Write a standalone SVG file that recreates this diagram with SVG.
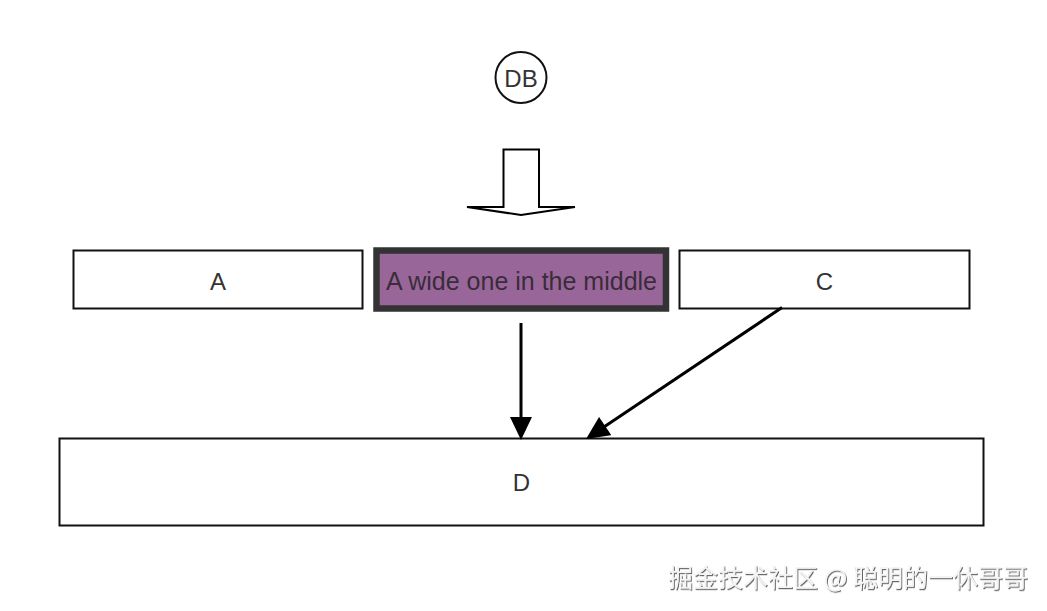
<svg xmlns="http://www.w3.org/2000/svg" width="1047" height="611" viewBox="0 0 1047 611">
<style>
.box{fill:#ffffff;stroke:#111111;stroke-width:2}
.lbl{font-family:"Liberation Sans",Arial,sans-serif;font-size:24px;fill:#333333;text-anchor:middle;dominant-baseline:central}
.conn{stroke:#000000;stroke-width:3;fill:none}
.wm{font-family:"Noto Sans CJK SC","Noto Sans",sans-serif;font-size:25px;fill:#f4f4f4}
</style>
<defs>
<marker id="head" markerUnits="userSpaceOnUse" markerWidth="24" markerHeight="22" viewBox="0 0 22 21" refX="1" refY="10.5" orient="auto">
<path d="M0,0 L22,10.5 L0,21 Z" fill="#000000"/>
</marker>
<filter id="emb" x="-5%" y="-30%" width="110%" height="160%">
<feDropShadow dx="1" dy="1.2" stdDeviation="0.7" flood-color="#555555" flood-opacity="0.9"/>
</filter>
</defs>
<rect width="1047" height="611" fill="#ffffff"/>
<g id="DB">
<circle cx="521" cy="77.5" r="25.5" fill="#ffffff" stroke="#111111" stroke-width="2"/>
<text class="lbl" x="521" y="78">DB</text>
</g>
<g id="flow-arrow">
<path d="M503.5,149.5 H539 V207 H575 L521,215 L467,207 H503.5 Z" fill="#ffffff" stroke="#000000" stroke-width="2" stroke-linejoin="miter"/>
</g>
<g id="A">
<rect class="box" x="73.5" y="250.5" width="289" height="58"/>
<text class="lbl" x="218" y="281">A</text>
</g>
<g id="B">
<rect x="376.5" y="250.5" width="289.5" height="58" fill="#996699" stroke="#333333" stroke-width="6.5"/>
<text class="lbl" x="521.5" y="281" style="font-size:25px;fill:#3a2c3a">A wide one in the middle</text>
</g>
<g id="C">
<rect class="box" x="679.5" y="250.5" width="290" height="58"/>
<text class="lbl" x="824.5" y="281">C</text>
</g>
<g id="D">
<rect class="box" x="59.5" y="438.5" width="924" height="87"/>
<text class="lbl" x="521.5" y="482">D</text>
</g>
<g id="connectors">
<line class="conn" x1="521" y1="323" x2="521" y2="418" marker-end="url(#head)"/>
<line class="conn" x1="782" y1="307.5" x2="604.3" y2="426.7" marker-end="url(#head)"/>
</g>
<text class="wm" x="668" y="587" textLength="360" lengthAdjust="spacingAndGlyphs" filter="url(#emb)">掘金技术社区 @ 聪明的一休哥哥</text>
</svg>
